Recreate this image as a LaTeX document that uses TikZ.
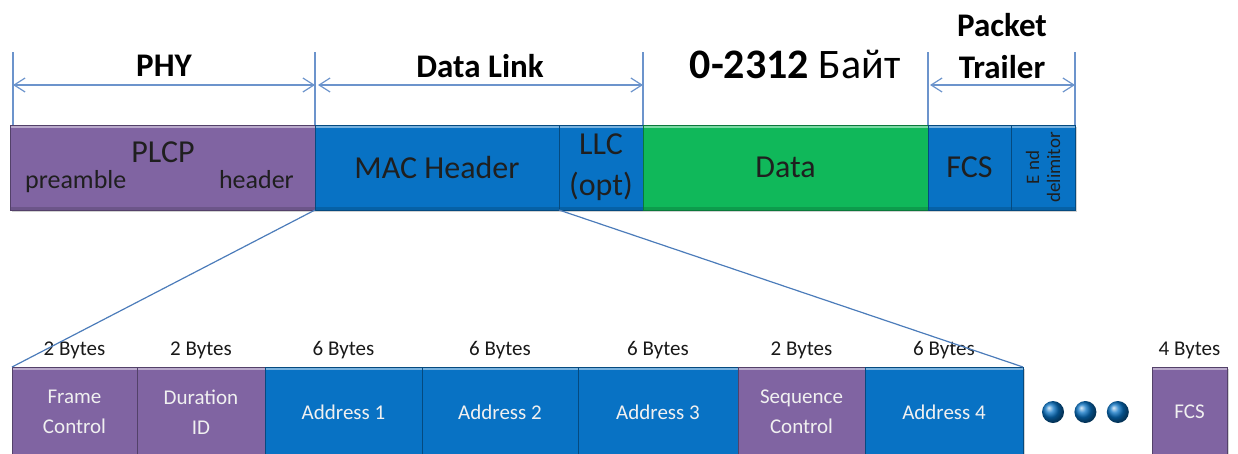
\documentclass[tikz,border=0pt]{standalone}
\usepackage{fontspec}
\setmainfont{Carlito}
\usetikzlibrary{positioning,shadows,arrows.meta}

\definecolor{purp}{HTML}{8064A2}
\definecolor{fblue}{HTML}{0872C4}
\definecolor{fgreen}{HTML}{10B85A}
\definecolor{dimline}{HTML}{6C94CC}
\definecolor{linkline}{HTML}{4C7CBA}

\tikzset{field/.style={rectangle, draw=#1!65!black, fill=#1, line width=.8pt,
    inner sep=0pt, outer sep=0pt, minimum height=85pt, align=center,
    drop shadow={shadow xshift=1.5pt, shadow yshift=-2pt, opacity=.35},
    path picture={\fill[white, opacity=.45] (path picture bounding box.north west)
      rectangle ([yshift=-3pt]path picture bounding box.north east);
      \fill[black, opacity=.15] (path picture bounding box.south west)
      rectangle ([yshift=3pt]path picture bounding box.south east);}}}
\tikzset{toptext/.style={font=\fontsize{32}{41}\selectfont, text=black!88}}
\tikzset{subtext/.style={font=\fontsize{26}{30}\selectfont, text=black!88, inner sep=0pt}}
\tikzset{bottext/.style={minimum height=90pt, font=\fontsize{21}{30}\selectfont, text=white!94!black}}
\tikzset{bytes/.style={font=\fontsize{21}{24}\selectfont, text=black!90, inner sep=0pt, yshift=8pt}}
\tikzset{layer/.style={font=\bfseries\fontsize{33}{42}\selectfont, align=center}}
\tikzset{dim/.style={draw=dimline, line width=1.2pt, {Straight Barb[length=11pt,width=14pt]}-{Straight Barb[length=11pt,width=14pt]}}}
\tikzset{tick/.style={draw=dimline, line width=1.2pt}}
\tikzset{link/.style={draw=linkline, line width=1.2pt}}
\tikzset{dot/.style={circle, inner sep=0pt, minimum size=22pt, shading=ball, ball color=fblue}}

\begin{document}
\begin{tikzpicture}[x=1pt, y=-1pt]
  \useasboundingbox (0,0) rectangle (1238,453);
  \clip (0,0) rectangle (1238,453);

    %%%% Top frame
    \node[field=purp, minimum width=305pt] (plcp) at (162.5,167.5) {};
    \node[field=fblue, minimum width=244pt, right=0pt of plcp, toptext] (mac) {MAC Header};
    \node[field=fblue, minimum width=84pt, right=0pt of mac, toptext] (llc) {LLC\\(opt)};
    \node[field=fgreen, minimum width=285pt, right=0pt of llc, toptext] (data) {Data};
    \node[field=fblue, minimum width=83pt, right=0pt of data, toptext] (fcs) {FCS};
    \node[field=fblue, minimum width=64pt, right=0pt of fcs] (endd) {};

    \node[toptext] (plcplbl) at (163,152) {PLCP};
    \node[subtext, anchor=base west] (pre) at (25,188) {preamble};
    \node[subtext, anchor=base east] (hdr) at (294,188) {header};
    \node[rotate=90, align=center, inner sep=0pt, text=black!88,
      font=\fontsize{19}{21}\selectfont] (endlbl) at (endd) {E nd\\delimitor};

    %%%% Layer labels
    \node[layer] (phy) at (164,66) {PHY};
    \node[layer] (dl) at (480,66) {Data Link};
    \node[font=\fontsize{42}{46}\selectfont] (len) at (795,64) {\textbf{0-2312} Байт};
    \node[layer] (pt) at (1002,46) {Packet\\Trailer};

    %%%% Dimension lines
    \coordinate (v1) at (13,52);
    \coordinate (v2) at (315,52);
    \coordinate (v3) at (643,52);
    \coordinate (v4) at (928,52);
    \coordinate (v5) at (1075,52);
    \foreach \v in {v1,v2,v3,v4,v5}
      \draw[tick] (\v) -- (\v |- plcp.north);

    \coordinate (phyL) at (13,85);
    \coordinate (phyR) at (315,85);
    \coordinate (dlL) at (318,85);
    \coordinate (dlR) at (643,85);
    \coordinate (ptL) at (930,85);
    \coordinate (ptR) at (1075,85);
    \draw[dim] (phyL) -- (phyR);
    \draw[dim] (dlL) -- (dlR);
    \draw[dim] (ptL) -- (ptR);

    %%%% MAC header fields
    \node[field=purp, minimum width=125pt, bottext, label={[bytes]above:2 Bytes}] (fc) at (74.5,412) {Frame\\Control};
    \node[field=purp, minimum width=128pt, bottext, right=0pt of fc, label={[bytes]above:2 Bytes}] (dur) {Duration\\ID};
    \node[field=fblue, minimum width=157pt, bottext, right=0pt of dur, label={[bytes]above:6 Bytes}] (a1) {Address 1};
    \node[field=fblue, minimum width=156pt, bottext, right=0pt of a1, label={[bytes]above:6 Bytes}] (a2) {Address 2};
    \node[field=fblue, minimum width=160pt, bottext, right=0pt of a2, label={[bytes]above:6 Bytes}] (a3) {Address 3};
    \node[field=purp, minimum width=127pt, bottext, right=0pt of a3, label={[bytes]above:2 Bytes}] (seq) {Sequence\\Control};
    \node[field=fblue, minimum width=158pt, bottext, right=0pt of seq, label={[bytes]above:6 Bytes}] (a4) {Address 4};

    \node[dot] (d1) at (1053,412) {};
    \node[dot, right=10pt of d1] (d2) {};
    \node[dot, right=10pt of d2] (d3) {};

    \node[field=purp, minimum width=75pt, bottext, label={[bytes]above:4 Bytes}] (fcs2) at (1189.5,412) {FCS};

    %%%% Zoom lines
    \draw[link] (mac.south west) -- (fc.north west);
    \draw[link] (llc.south west) -- (a4.north east);

\end{tikzpicture}
\end{document}
